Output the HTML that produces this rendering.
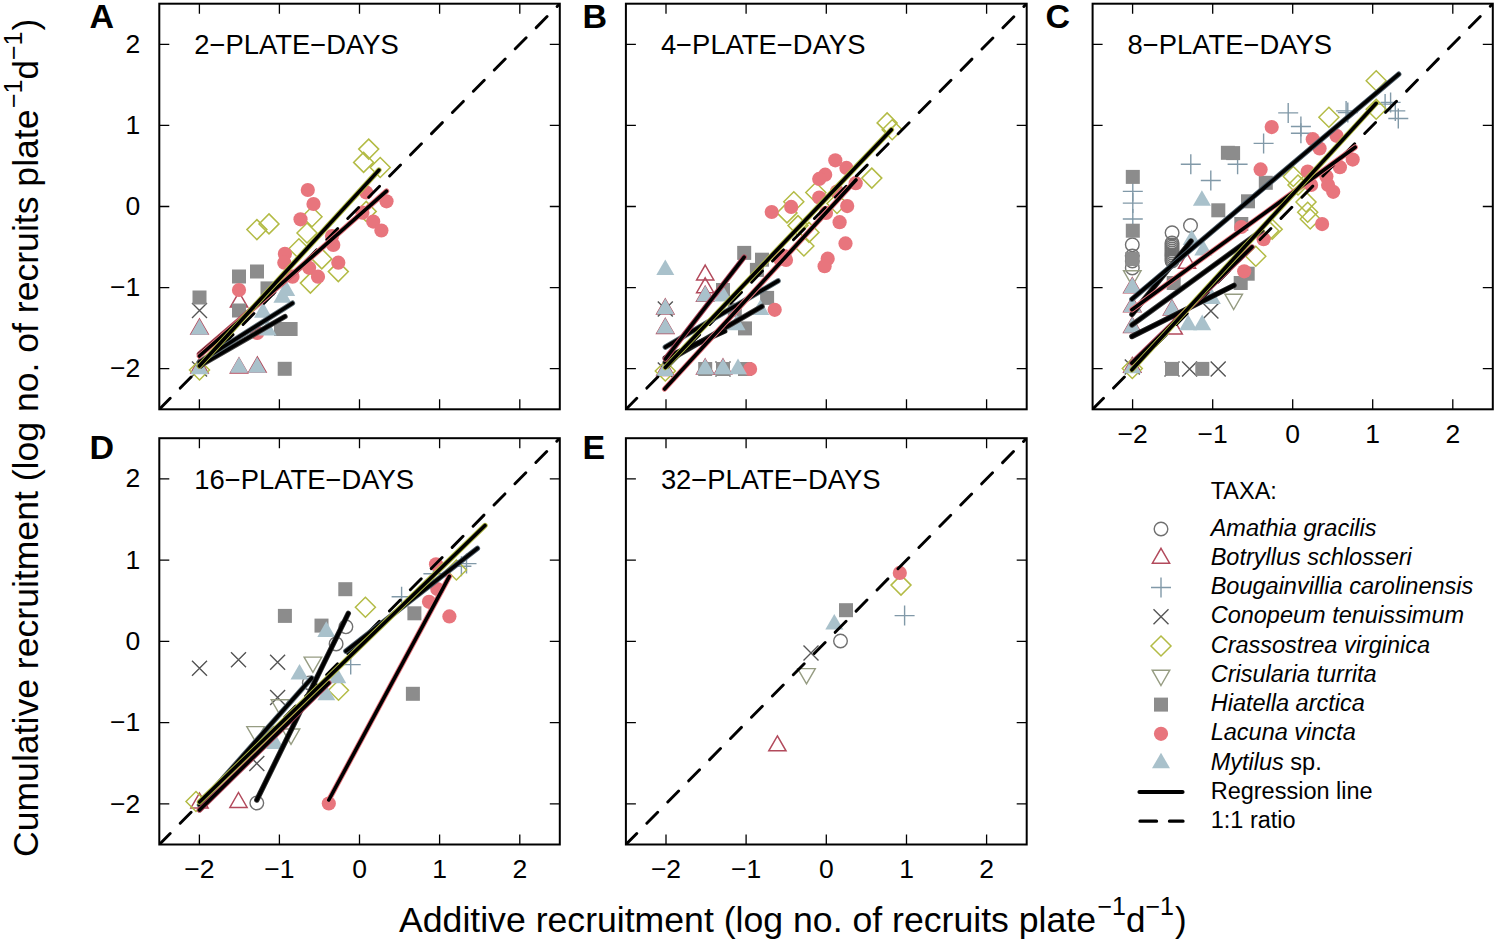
<!DOCTYPE html><html><head><meta charset="utf-8"><style>html,body{margin:0;padding:0;background:#fff;}svg{display:block;font-family:"Liberation Sans", sans-serif;}</style></head><body>
<svg width="1497" height="943" viewBox="0 0 1497 943">
<rect width="100%" height="100%" fill="#fff"/>
<clipPath id="clipA"><rect x="159.3" y="3.7" width="400.49999999999994" height="405.6"/></clipPath>
<g clip-path="url(#clipA)">
<path d="M199.5 319.1L208.1 334.0L190.9 334.0Z" fill="none" stroke="#b24a5c" stroke-width="1.5"/>
<path d="M239.0 292.1L247.6 307.0L230.4 307.0Z" fill="none" stroke="#b24a5c" stroke-width="1.5"/>
<path d="M199.5 358.1L208.1 373.0L190.9 373.0Z" fill="none" stroke="#b24a5c" stroke-width="1.5"/>
<path d="M239.0 358.1L247.6 373.0L230.4 373.0Z" fill="none" stroke="#b24a5c" stroke-width="1.5"/>
<path d="M257.4 357.1L266.0 372.0L248.8 372.0Z" fill="none" stroke="#b24a5c" stroke-width="1.5"/>
<path d="M192.0 303.0L207.0 318.0M192.0 318.0L207.0 303.0" stroke="#555555" stroke-width="1.4"/>
<path d="M192.0 361.5L207.0 376.5M192.0 376.5L207.0 361.5" stroke="#555555" stroke-width="1.4"/>
<path d="M368.7 139.1L378.7 149.1L368.7 159.1L358.7 149.1Z" fill="none" stroke="#b3bb45" stroke-width="1.5"/>
<path d="M363.6 152.4L373.6 162.4L363.6 172.4L353.6 162.4Z" fill="none" stroke="#b3bb45" stroke-width="1.5"/>
<path d="M380.2 157.5L390.2 167.5L380.2 177.5L370.2 167.5Z" fill="none" stroke="#b3bb45" stroke-width="1.5"/>
<path d="M312.0 206.7L322.0 216.7L312.0 226.7L302.0 216.7Z" fill="none" stroke="#b3bb45" stroke-width="1.5"/>
<path d="M307.0 223.0L317.0 233.0L307.0 243.0L297.0 233.0Z" fill="none" stroke="#b3bb45" stroke-width="1.5"/>
<path d="M366.2 201.4L376.2 211.4L366.2 221.4L356.2 211.4Z" fill="none" stroke="#b3bb45" stroke-width="1.5"/>
<path d="M298.9 238.7L308.9 248.7L298.9 258.7L288.9 248.7Z" fill="none" stroke="#b3bb45" stroke-width="1.5"/>
<path d="M256.9 219.6L266.9 229.6L256.9 239.6L246.9 229.6Z" fill="none" stroke="#b3bb45" stroke-width="1.5"/>
<path d="M269.0 213.9L279.0 223.9L269.0 233.9L259.0 223.9Z" fill="none" stroke="#b3bb45" stroke-width="1.5"/>
<path d="M321.8 248.9L331.8 258.9L321.8 268.9L311.8 258.9Z" fill="none" stroke="#b3bb45" stroke-width="1.5"/>
<path d="M310.4 273.1L320.4 283.1L310.4 293.1L300.4 283.1Z" fill="none" stroke="#b3bb45" stroke-width="1.5"/>
<path d="M338.3 261.6L348.3 271.6L338.3 281.6L328.3 271.6Z" fill="none" stroke="#b3bb45" stroke-width="1.5"/>
<path d="M199.5 360.0L209.5 370.0L199.5 380.0L189.5 370.0Z" fill="none" stroke="#b3bb45" stroke-width="1.5"/>
<rect x="192.5" y="290.5" width="14.0" height="14.0" fill="#8c8c8c"/>
<rect x="232.0" y="269.5" width="14.0" height="14.0" fill="#8c8c8c"/>
<rect x="250.0" y="264.5" width="14.0" height="14.0" fill="#8c8c8c"/>
<rect x="260.5" y="281.4" width="14.0" height="14.0" fill="#8c8c8c"/>
<rect x="232.0" y="303.5" width="14.0" height="14.0" fill="#8c8c8c"/>
<rect x="274.0" y="322.0" width="14.0" height="14.0" fill="#8c8c8c"/>
<rect x="283.6" y="322.0" width="14.0" height="14.0" fill="#8c8c8c"/>
<rect x="277.7" y="361.8" width="14.0" height="14.0" fill="#8c8c8c"/>
<circle cx="307.8" cy="190.0" r="7.10" fill="#e8757d"/>
<circle cx="313.5" cy="204.0" r="7.10" fill="#e8757d"/>
<circle cx="300.5" cy="219.3" r="7.10" fill="#e8757d"/>
<circle cx="366.2" cy="192.4" r="7.10" fill="#e8757d"/>
<circle cx="386.5" cy="201.3" r="7.10" fill="#e8757d"/>
<circle cx="362.4" cy="212.7" r="7.10" fill="#e8757d"/>
<circle cx="373.2" cy="221.6" r="7.10" fill="#e8757d"/>
<circle cx="381.4" cy="230.5" r="7.10" fill="#e8757d"/>
<circle cx="332.0" cy="236.0" r="7.10" fill="#e8757d"/>
<circle cx="333.3" cy="244.9" r="7.10" fill="#e8757d"/>
<circle cx="284.9" cy="253.8" r="7.10" fill="#e8757d"/>
<circle cx="284.3" cy="262.7" r="7.10" fill="#e8757d"/>
<circle cx="309.1" cy="267.8" r="7.10" fill="#e8757d"/>
<circle cx="318.0" cy="276.7" r="7.10" fill="#e8757d"/>
<circle cx="292.5" cy="276.7" r="7.10" fill="#e8757d"/>
<circle cx="338.3" cy="262.7" r="7.10" fill="#e8757d"/>
<circle cx="239.0" cy="290.0" r="7.10" fill="#e8757d"/>
<circle cx="257.2" cy="333.0" r="7.10" fill="#e8757d"/>
<path d="M199.5 319.1L208.5 334.7L190.5 334.7Z" fill="#a9c1cb"/>
<path d="M239.0 357.1L248.0 372.7L230.0 372.7Z" fill="#a9c1cb"/>
<path d="M257.2 357.1L266.2 372.7L248.2 372.7Z" fill="#a9c1cb"/>
<path d="M199.5 358.6L208.5 374.2L190.5 374.2Z" fill="#a9c1cb"/>
<path d="M263.0 302.1L272.0 317.7L254.0 317.7Z" fill="#a9c1cb"/>
<path d="M282.4 287.1L291.4 302.7L273.4 302.7Z" fill="#a9c1cb"/>
<path d="M267.6 319.8L276.6 335.4L258.6 335.4Z" fill="#a9c1cb"/>
<path d="M286.2 280.3L295.2 295.9L277.2 295.9Z" fill="#a9c1cb"/>
<line x1="159.3" y1="409.3" x2="559.8" y2="3.7" stroke="#000" stroke-width="2.9" stroke-dasharray="15.5 14.3" stroke-linecap="round"/>
<line x1="199.4" y1="366" x2="285" y2="316.5" stroke="#404040" stroke-width="5.4" stroke-linecap="round"/>
<line x1="199.4" y1="366" x2="285" y2="316.5" stroke="#000" stroke-width="3.6" stroke-linecap="round"/>
<line x1="199.4" y1="362" x2="292.4" y2="303.2" stroke="#5a6a72" stroke-width="5.4" stroke-linecap="round"/>
<line x1="199.4" y1="362" x2="292.4" y2="303.2" stroke="#000" stroke-width="3.6" stroke-linecap="round"/>
<line x1="199.4" y1="354" x2="300" y2="268" stroke="#b24a5c" stroke-width="5.4" stroke-linecap="round"/>
<line x1="199.4" y1="354" x2="300" y2="268" stroke="#000" stroke-width="3.6" stroke-linecap="round"/>
<line x1="199.4" y1="356" x2="386.5" y2="191.1" stroke="#e8757d" stroke-width="5.4" stroke-linecap="round"/>
<line x1="199.4" y1="356" x2="386.5" y2="191.1" stroke="#000" stroke-width="3.6" stroke-linecap="round"/>
<line x1="199.4" y1="366" x2="378.9" y2="170.1" stroke="#b3bb45" stroke-width="5.4" stroke-linecap="round"/>
<line x1="199.4" y1="366" x2="378.9" y2="170.1" stroke="#000" stroke-width="3.6" stroke-linecap="round"/>
</g>
<rect x="159.3" y="3.7" width="400.5" height="405.6" fill="none" stroke="#000" stroke-width="2"/>
<path d="M199.4 409.3V399.3M199.4 3.7V13.7M159.3 368.7H169.3M559.8 368.7H549.8" stroke="#000" stroke-width="1.3"/>
<text x="140.3" y="377.3" text-anchor="end" font-size="26.5">−2</text>
<path d="M279.4 409.3V399.3M279.4 3.7V13.7M159.3 287.6H169.3M559.8 287.6H549.8" stroke="#000" stroke-width="1.3"/>
<text x="140.3" y="296.2" text-anchor="end" font-size="26.5">−1</text>
<path d="M359.5 409.3V399.3M359.5 3.7V13.7M159.3 206.5H169.3M559.8 206.5H549.8" stroke="#000" stroke-width="1.3"/>
<text x="140.3" y="215.1" text-anchor="end" font-size="26.5">0</text>
<path d="M439.6 409.3V399.3M439.6 3.7V13.7M159.3 125.4H169.3M559.8 125.4H549.8" stroke="#000" stroke-width="1.3"/>
<text x="140.3" y="134.0" text-anchor="end" font-size="26.5">1</text>
<path d="M519.8 409.3V399.3M519.8 3.7V13.7M159.3 44.3H169.3M559.8 44.3H549.8" stroke="#000" stroke-width="1.3"/>
<text x="140.3" y="52.9" text-anchor="end" font-size="26.5">2</text>
<text x="194.3" y="54.2" font-size="27.4">2−PLATE−DAYS</text>
<clipPath id="clipB"><rect x="625.9" y="3.7" width="400.80000000000007" height="405.6"/></clipPath>
<g clip-path="url(#clipB)">
<path d="M665.3 299.1L673.9 314.0L656.7 314.0Z" fill="none" stroke="#b24a5c" stroke-width="1.5"/>
<path d="M665.3 318.5L673.9 333.4L656.7 333.4Z" fill="none" stroke="#b24a5c" stroke-width="1.5"/>
<path d="M665.3 360.6L673.9 375.5L656.7 375.5Z" fill="none" stroke="#b24a5c" stroke-width="1.5"/>
<path d="M705.2 265.1L713.8 280.0L696.6 280.0Z" fill="none" stroke="#b24a5c" stroke-width="1.5"/>
<path d="M705.2 277.8L713.8 292.7L696.6 292.7Z" fill="none" stroke="#b24a5c" stroke-width="1.5"/>
<path d="M705.2 286.3L713.8 301.2L696.6 301.2Z" fill="none" stroke="#b24a5c" stroke-width="1.5"/>
<path d="M705.2 359.1L713.8 374.0L696.6 374.0Z" fill="none" stroke="#b24a5c" stroke-width="1.5"/>
<path d="M723.0 359.1L731.6 374.0L714.4 374.0Z" fill="none" stroke="#b24a5c" stroke-width="1.5"/>
<path d="M657.8 301.5L672.8 316.5M657.8 316.5L672.8 301.5" stroke="#555555" stroke-width="1.4"/>
<path d="M657.8 362.5L672.8 377.5M657.8 377.5L672.8 362.5" stroke="#555555" stroke-width="1.4"/>
<path d="M715.5 361.5L730.5 376.5M715.5 376.5L730.5 361.5" stroke="#555555" stroke-width="1.4"/>
<path d="M887.1 112.9L897.1 122.9L887.1 132.9L877.1 122.9Z" fill="none" stroke="#b3bb45" stroke-width="1.5"/>
<path d="M892.2 119.7L902.2 129.7L892.2 139.7L882.2 129.7Z" fill="none" stroke="#b3bb45" stroke-width="1.5"/>
<path d="M871.8 168.1L881.8 178.1L871.8 188.1L861.8 178.1Z" fill="none" stroke="#b3bb45" stroke-width="1.5"/>
<path d="M815.8 182.5L825.8 192.5L815.8 202.5L805.8 192.5Z" fill="none" stroke="#b3bb45" stroke-width="1.5"/>
<path d="M793.8 191.8L803.8 201.8L793.8 211.8L783.8 201.8Z" fill="none" stroke="#b3bb45" stroke-width="1.5"/>
<path d="M787.0 202.9L797.0 212.9L787.0 222.9L777.0 212.9Z" fill="none" stroke="#b3bb45" stroke-width="1.5"/>
<path d="M798.0 215.6L808.0 225.6L798.0 235.6L788.0 225.6Z" fill="none" stroke="#b3bb45" stroke-width="1.5"/>
<path d="M809.0 222.4L819.0 232.4L809.0 242.4L799.0 232.4Z" fill="none" stroke="#b3bb45" stroke-width="1.5"/>
<path d="M803.9 236.0L813.9 246.0L803.9 256.0L793.9 246.0Z" fill="none" stroke="#b3bb45" stroke-width="1.5"/>
<path d="M837.0 193.5L847.0 203.5L837.0 213.5L827.0 203.5Z" fill="none" stroke="#b3bb45" stroke-width="1.5"/>
<path d="M665.3 361.0L675.3 371.0L665.3 381.0L655.3 371.0Z" fill="none" stroke="#b3bb45" stroke-width="1.5"/>
<rect x="737.2" y="245.9" width="14.0" height="14.0" fill="#8c8c8c"/>
<rect x="755.0" y="252.7" width="14.0" height="14.0" fill="#8c8c8c"/>
<rect x="749.9" y="262.9" width="14.0" height="14.0" fill="#8c8c8c"/>
<rect x="760.1" y="290.9" width="14.0" height="14.0" fill="#8c8c8c"/>
<rect x="738.0" y="321.4" width="14.0" height="14.0" fill="#8c8c8c"/>
<rect x="727.8" y="302.8" width="14.0" height="14.0" fill="#8c8c8c"/>
<rect x="716.0" y="283.0" width="14.0" height="14.0" fill="#8c8c8c"/>
<rect x="698.2" y="362.0" width="14.0" height="14.0" fill="#8c8c8c"/>
<rect x="716.0" y="362.0" width="14.0" height="14.0" fill="#8c8c8c"/>
<rect x="738.0" y="362.0" width="14.0" height="14.0" fill="#8c8c8c"/>
<circle cx="835.3" cy="160.3" r="7.10" fill="#e8757d"/>
<circle cx="846.4" cy="167.9" r="7.10" fill="#e8757d"/>
<circle cx="825.2" cy="174.7" r="7.10" fill="#e8757d"/>
<circle cx="819.2" cy="178.9" r="7.10" fill="#e8757d"/>
<circle cx="855.7" cy="183.2" r="7.10" fill="#e8757d"/>
<circle cx="819.2" cy="197.6" r="7.10" fill="#e8757d"/>
<circle cx="837.0" cy="191.6" r="7.10" fill="#e8757d"/>
<circle cx="791.2" cy="206.9" r="7.10" fill="#e8757d"/>
<circle cx="771.7" cy="212.0" r="7.10" fill="#e8757d"/>
<circle cx="847.2" cy="206.1" r="7.10" fill="#e8757d"/>
<circle cx="826.0" cy="212.9" r="7.10" fill="#e8757d"/>
<circle cx="839.6" cy="222.2" r="7.10" fill="#e8757d"/>
<circle cx="845.5" cy="243.4" r="7.10" fill="#e8757d"/>
<circle cx="827.7" cy="258.7" r="7.10" fill="#e8757d"/>
<circle cx="824.6" cy="266.2" r="7.10" fill="#e8757d"/>
<circle cx="784.4" cy="256.1" r="7.10" fill="#e8757d"/>
<circle cx="774.7" cy="309.8" r="7.10" fill="#e8757d"/>
<circle cx="779.8" cy="258.8" r="7.10" fill="#e8757d"/>
<circle cx="750.1" cy="369.0" r="7.10" fill="#e8757d"/>
<circle cx="786.0" cy="260.0" r="7.10" fill="#e8757d"/>
<path d="M665.3 259.5L674.3 275.1L656.3 275.1Z" fill="#a9c1cb"/>
<path d="M665.3 298.6L674.3 314.2L656.3 314.2Z" fill="#a9c1cb"/>
<path d="M665.3 318.0L674.3 333.6L656.3 333.6Z" fill="#a9c1cb"/>
<path d="M665.3 360.4L674.3 376.0L656.3 376.0Z" fill="#a9c1cb"/>
<path d="M705.2 285.8L714.2 301.4L696.2 301.4Z" fill="#a9c1cb"/>
<path d="M705.2 358.6L714.2 374.2L696.2 374.2Z" fill="#a9c1cb"/>
<path d="M723.0 358.6L732.0 374.2L714.0 374.2Z" fill="#a9c1cb"/>
<path d="M723.0 285.8L732.0 301.4L714.0 301.4Z" fill="#a9c1cb"/>
<path d="M760.3 299.4L769.3 315.0L751.3 315.0Z" fill="#a9c1cb"/>
<path d="M736.5 314.6L745.5 330.2L727.5 330.2Z" fill="#a9c1cb"/>
<path d="M738.0 358.6L747.0 374.2L729.0 374.2Z" fill="#a9c1cb"/>
<line x1="625.9" y1="409.3" x2="1026.7" y2="3.7" stroke="#000" stroke-width="2.9" stroke-dasharray="15.5 14.3" stroke-linecap="round"/>
<line x1="665.3" y1="362.4" x2="762" y2="306.4" stroke="#404040" stroke-width="5.4" stroke-linecap="round"/>
<line x1="665.3" y1="362.4" x2="762" y2="306.4" stroke="#000" stroke-width="3.6" stroke-linecap="round"/>
<line x1="665.3" y1="347.1" x2="778.1" y2="280.9" stroke="#5a6a72" stroke-width="5.4" stroke-linecap="round"/>
<line x1="665.3" y1="347.1" x2="778.1" y2="280.9" stroke="#000" stroke-width="3.6" stroke-linecap="round"/>
<line x1="665.3" y1="358" x2="724.7" y2="331" stroke="#202020" stroke-width="5.4" stroke-linecap="round"/>
<line x1="665.3" y1="358" x2="724.7" y2="331" stroke="#000" stroke-width="3.6" stroke-linecap="round"/>
<line x1="665.3" y1="359" x2="744.2" y2="257.2" stroke="#b24a5c" stroke-width="5.4" stroke-linecap="round"/>
<line x1="665.3" y1="359" x2="744.2" y2="257.2" stroke="#000" stroke-width="3.6" stroke-linecap="round"/>
<line x1="664.6" y1="389" x2="856" y2="180" stroke="#e8757d" stroke-width="5.4" stroke-linecap="round"/>
<line x1="664.6" y1="389" x2="856" y2="180" stroke="#000" stroke-width="3.6" stroke-linecap="round"/>
<line x1="665.3" y1="367.5" x2="891.4" y2="129.7" stroke="#b3bb45" stroke-width="5.4" stroke-linecap="round"/>
<line x1="665.3" y1="367.5" x2="891.4" y2="129.7" stroke="#000" stroke-width="3.6" stroke-linecap="round"/>
</g>
<rect x="625.9" y="3.7" width="400.8" height="405.6" fill="none" stroke="#000" stroke-width="2"/>
<path d="M666.0 409.3V399.3M666.0 3.7V13.7M625.9 368.7H635.9M1026.7 368.7H1016.7" stroke="#000" stroke-width="1.3"/>
<path d="M746.1 409.3V399.3M746.1 3.7V13.7M625.9 287.6H635.9M1026.7 287.6H1016.7" stroke="#000" stroke-width="1.3"/>
<path d="M826.3 409.3V399.3M826.3 3.7V13.7M625.9 206.5H635.9M1026.7 206.5H1016.7" stroke="#000" stroke-width="1.3"/>
<path d="M906.5 409.3V399.3M906.5 3.7V13.7M625.9 125.4H635.9M1026.7 125.4H1016.7" stroke="#000" stroke-width="1.3"/>
<path d="M986.6 409.3V399.3M986.6 3.7V13.7M625.9 44.3H635.9M1026.7 44.3H1016.7" stroke="#000" stroke-width="1.3"/>
<text x="660.9" y="54.2" font-size="27.4">4−PLATE−DAYS</text>
<clipPath id="clipC"><rect x="1092.6" y="3.7" width="400.20000000000005" height="405.6"/></clipPath>
<g clip-path="url(#clipC)">
<circle cx="1132.3" cy="244.8" r="6.80" fill="none" stroke="#707070" stroke-width="1.4"/>
<circle cx="1132.3" cy="256.0" r="6.80" fill="none" stroke="#707070" stroke-width="1.4"/>
<circle cx="1132.3" cy="261.0" r="6.80" fill="none" stroke="#707070" stroke-width="1.4"/>
<circle cx="1132.3" cy="267.9" r="6.80" fill="none" stroke="#707070" stroke-width="1.4"/>
<circle cx="1172.1" cy="232.8" r="6.80" fill="none" stroke="#707070" stroke-width="1.4"/>
<circle cx="1190.5" cy="225.5" r="6.80" fill="none" stroke="#707070" stroke-width="1.4"/>
<circle cx="1172.0" cy="243.0" r="6.80" fill="none" stroke="#707070" stroke-width="1.4"/>
<circle cx="1172.0" cy="245.0" r="6.80" fill="none" stroke="#707070" stroke-width="1.4"/>
<circle cx="1172.0" cy="247.0" r="6.80" fill="none" stroke="#707070" stroke-width="1.4"/>
<circle cx="1172.0" cy="249.0" r="6.80" fill="none" stroke="#707070" stroke-width="1.4"/>
<circle cx="1172.0" cy="251.0" r="6.80" fill="none" stroke="#707070" stroke-width="1.4"/>
<circle cx="1172.0" cy="253.0" r="6.80" fill="none" stroke="#707070" stroke-width="1.4"/>
<circle cx="1172.0" cy="255.0" r="6.80" fill="none" stroke="#707070" stroke-width="1.4"/>
<circle cx="1172.0" cy="257.0" r="6.80" fill="none" stroke="#707070" stroke-width="1.4"/>
<circle cx="1172.0" cy="259.0" r="6.80" fill="none" stroke="#707070" stroke-width="1.4"/>
<circle cx="1172.0" cy="261.0" r="6.80" fill="none" stroke="#707070" stroke-width="1.4"/>
<path d="M1132.3 277.8L1140.9 292.7L1123.7 292.7Z" fill="none" stroke="#b24a5c" stroke-width="1.5"/>
<path d="M1132.3 296.9L1140.9 311.8L1123.7 311.8Z" fill="none" stroke="#b24a5c" stroke-width="1.5"/>
<path d="M1132.3 317.6L1140.9 332.5L1123.7 332.5Z" fill="none" stroke="#b24a5c" stroke-width="1.5"/>
<path d="M1132.3 357.4L1140.9 372.3L1123.7 372.3Z" fill="none" stroke="#b24a5c" stroke-width="1.5"/>
<path d="M1172.0 300.1L1180.6 315.0L1163.4 315.0Z" fill="none" stroke="#b24a5c" stroke-width="1.5"/>
<path d="M1173.7 319.2L1182.3 334.1L1165.1 334.1Z" fill="none" stroke="#b24a5c" stroke-width="1.5"/>
<path d="M1187.0 253.3L1195.6 268.2L1178.4 268.2Z" fill="none" stroke="#b24a5c" stroke-width="1.5"/>
<path d="M1122.8 191.4H1142.8M1132.8 181.4V201.4" stroke="#8199a8" stroke-width="1.4"/>
<path d="M1122.8 203.1H1142.8M1132.8 193.1V213.1" stroke="#8199a8" stroke-width="1.4"/>
<path d="M1122.8 219.0H1142.8M1132.8 209.0V229.0" stroke="#8199a8" stroke-width="1.4"/>
<path d="M1180.8 164.2H1200.8M1190.8 154.2V174.2" stroke="#8199a8" stroke-width="1.4"/>
<path d="M1200.8 180.5H1220.8M1210.8 170.5V190.5" stroke="#8199a8" stroke-width="1.4"/>
<path d="M1227.6 164.2H1247.6M1237.6 154.2V174.2" stroke="#8199a8" stroke-width="1.4"/>
<path d="M1253.6 143.4H1273.6M1263.6 133.4V153.4" stroke="#8199a8" stroke-width="1.4"/>
<path d="M1278.2 112.9H1298.2M1288.2 102.9V122.9" stroke="#8199a8" stroke-width="1.4"/>
<path d="M1290.9 126.5H1310.9M1300.9 116.5V136.5" stroke="#8199a8" stroke-width="1.4"/>
<path d="M1290.9 133.3H1310.9M1300.9 123.3V143.3" stroke="#8199a8" stroke-width="1.4"/>
<path d="M1336.1 110.9H1356.1M1346.1 100.9V120.9" stroke="#8199a8" stroke-width="1.4"/>
<path d="M1337.8 112.6H1357.8M1347.8 102.6V122.6" stroke="#8199a8" stroke-width="1.4"/>
<path d="M1375.1 104.1H1395.1M1385.1 94.1V114.1" stroke="#8199a8" stroke-width="1.4"/>
<path d="M1380.6 102.4H1400.6M1390.6 92.4V112.4" stroke="#8199a8" stroke-width="1.4"/>
<path d="M1385.3 110.9H1405.3M1395.3 100.9V120.9" stroke="#8199a8" stroke-width="1.4"/>
<path d="M1388.3 118.5H1408.3M1398.3 108.5V128.5" stroke="#8199a8" stroke-width="1.4"/>
<path d="M1124.8 359.5L1139.8 374.5M1124.8 374.5L1139.8 359.5" stroke="#555555" stroke-width="1.4"/>
<path d="M1164.5 361.4L1179.5 376.4M1164.5 376.4L1179.5 361.4" stroke="#555555" stroke-width="1.4"/>
<path d="M1182.1 361.4L1197.1 376.4M1182.1 376.4L1197.1 361.4" stroke="#555555" stroke-width="1.4"/>
<path d="M1210.7 361.4L1225.7 376.4M1210.7 376.4L1225.7 361.4" stroke="#555555" stroke-width="1.4"/>
<path d="M1203.4 303.5L1218.4 318.5M1203.4 318.5L1218.4 303.5" stroke="#555555" stroke-width="1.4"/>
<path d="M1376.2 70.8L1386.2 80.8L1376.2 90.8L1366.2 80.8Z" fill="none" stroke="#b3bb45" stroke-width="1.5"/>
<path d="M1376.2 99.2L1386.2 109.2L1376.2 119.2L1366.2 109.2Z" fill="none" stroke="#b3bb45" stroke-width="1.5"/>
<path d="M1328.9 107.2L1338.9 117.2L1328.9 127.2L1318.9 117.2Z" fill="none" stroke="#b3bb45" stroke-width="1.5"/>
<path d="M1293.3 166.5L1303.3 176.5L1293.3 186.5L1283.3 176.5Z" fill="none" stroke="#b3bb45" stroke-width="1.5"/>
<path d="M1306.0 192.0L1316.0 202.0L1306.0 212.0L1296.0 202.0Z" fill="none" stroke="#b3bb45" stroke-width="1.5"/>
<path d="M1307.7 202.2L1317.7 212.2L1307.7 222.2L1297.7 212.2Z" fill="none" stroke="#b3bb45" stroke-width="1.5"/>
<path d="M1310.2 209.0L1320.2 219.0L1310.2 229.0L1300.2 219.0Z" fill="none" stroke="#b3bb45" stroke-width="1.5"/>
<path d="M1268.7 220.8L1278.7 230.8L1268.7 240.8L1258.7 230.8Z" fill="none" stroke="#b3bb45" stroke-width="1.5"/>
<path d="M1272.2 219.3L1282.2 229.3L1272.2 239.3L1262.2 229.3Z" fill="none" stroke="#b3bb45" stroke-width="1.5"/>
<path d="M1255.8 246.2L1265.8 256.2L1255.8 266.2L1245.8 256.2Z" fill="none" stroke="#b3bb45" stroke-width="1.5"/>
<path d="M1132.3 358.5L1142.3 368.5L1132.3 378.5L1122.3 368.5Z" fill="none" stroke="#b3bb45" stroke-width="1.5"/>
<path d="M1298.0 175.0L1308.0 185.0L1298.0 195.0L1288.0 185.0Z" fill="none" stroke="#b3bb45" stroke-width="1.5"/>
<path d="M1132.3 286.0L1141.1 270.7L1123.5 270.7Z" fill="none" stroke="#969c82" stroke-width="1.4"/>
<path d="M1233.7 309.5L1242.5 294.2L1224.9 294.2Z" fill="none" stroke="#969c82" stroke-width="1.4"/>
<rect x="1125.8" y="169.9" width="14.0" height="14.0" fill="#8c8c8c"/>
<rect x="1125.8" y="223.7" width="14.0" height="14.0" fill="#8c8c8c"/>
<rect x="1125.3" y="252.0" width="14.0" height="14.0" fill="#8c8c8c"/>
<rect x="1166.7" y="276.0" width="14.0" height="14.0" fill="#8c8c8c"/>
<rect x="1165.0" y="361.9" width="14.0" height="14.0" fill="#8c8c8c"/>
<rect x="1195.3" y="361.9" width="14.0" height="14.0" fill="#8c8c8c"/>
<rect x="1211.3" y="203.3" width="14.0" height="14.0" fill="#8c8c8c"/>
<rect x="1226.1" y="146.1" width="14.0" height="14.0" fill="#8c8c8c"/>
<rect x="1258.8" y="175.8" width="14.0" height="14.0" fill="#8c8c8c"/>
<rect x="1241.0" y="194.3" width="14.0" height="14.0" fill="#8c8c8c"/>
<rect x="1234.3" y="217.0" width="14.0" height="14.0" fill="#8c8c8c"/>
<rect x="1240.7" y="266.7" width="14.0" height="14.0" fill="#8c8c8c"/>
<rect x="1233.7" y="276.0" width="14.0" height="14.0" fill="#8c8c8c"/>
<rect x="1220.9" y="145.8" width="14.0" height="14.0" fill="#8c8c8c"/>
<circle cx="1271.7" cy="127.1" r="7.10" fill="#e8757d"/>
<circle cx="1260.6" cy="169.4" r="7.10" fill="#e8757d"/>
<circle cx="1241.3" cy="227.0" r="7.10" fill="#e8757d"/>
<circle cx="1263.6" cy="239.2" r="7.10" fill="#e8757d"/>
<circle cx="1312.8" cy="139.2" r="7.10" fill="#e8757d"/>
<circle cx="1319.6" cy="148.5" r="7.10" fill="#e8757d"/>
<circle cx="1336.5" cy="135.8" r="7.10" fill="#e8757d"/>
<circle cx="1352.7" cy="159.6" r="7.10" fill="#e8757d"/>
<circle cx="1339.9" cy="167.2" r="7.10" fill="#e8757d"/>
<circle cx="1307.7" cy="171.5" r="7.10" fill="#e8757d"/>
<circle cx="1326.4" cy="176.5" r="7.10" fill="#e8757d"/>
<circle cx="1328.1" cy="185.0" r="7.10" fill="#e8757d"/>
<circle cx="1333.2" cy="191.8" r="7.10" fill="#e8757d"/>
<circle cx="1311.1" cy="185.0" r="7.10" fill="#e8757d"/>
<circle cx="1322.1" cy="224.1" r="7.10" fill="#e8757d"/>
<circle cx="1244.2" cy="271.3" r="7.10" fill="#e8757d"/>
<path d="M1132.3 277.3L1141.3 292.9L1123.3 292.9Z" fill="#a9c1cb"/>
<path d="M1132.3 296.4L1141.3 312.0L1123.3 312.0Z" fill="#a9c1cb"/>
<path d="M1132.3 317.1L1141.3 332.7L1123.3 332.7Z" fill="#a9c1cb"/>
<path d="M1132.3 357.6L1141.3 373.2L1123.3 373.2Z" fill="#a9c1cb"/>
<path d="M1201.9 190.2L1210.9 205.8L1192.9 205.8Z" fill="#a9c1cb"/>
<path d="M1191.7 229.4L1200.7 245.0L1182.7 245.0Z" fill="#a9c1cb"/>
<path d="M1203.3 239.9L1212.3 255.5L1194.3 255.5Z" fill="#a9c1cb"/>
<path d="M1206.8 287.8L1215.8 303.4L1197.8 303.4Z" fill="#a9c1cb"/>
<path d="M1188.2 314.6L1197.2 330.2L1179.2 330.2Z" fill="#a9c1cb"/>
<path d="M1202.2 314.6L1211.2 330.2L1193.2 330.2Z" fill="#a9c1cb"/>
<path d="M1172.0 299.6L1181.0 315.2L1163.0 315.2Z" fill="#a9c1cb"/>
<path d="M1211.9 288.5L1220.9 304.1L1202.9 304.1Z" fill="#a9c1cb"/>
<line x1="1092.6" y1="409.3" x2="1492.8" y2="3.7" stroke="#000" stroke-width="2.9" stroke-dasharray="15.5 14.3" stroke-linecap="round"/>
<line x1="1131.9" y1="336.5" x2="1234" y2="285.3" stroke="#202020" stroke-width="5.4" stroke-linecap="round"/>
<line x1="1131.9" y1="336.5" x2="1234" y2="285.3" stroke="#000" stroke-width="3.6" stroke-linecap="round"/>
<line x1="1131.9" y1="325" x2="1261.7" y2="230.5" stroke="#404040" stroke-width="5.4" stroke-linecap="round"/>
<line x1="1131.9" y1="325" x2="1261.7" y2="230.5" stroke="#000" stroke-width="3.6" stroke-linecap="round"/>
<line x1="1131.9" y1="314.5" x2="1191.1" y2="241" stroke="#303030" stroke-width="5.4" stroke-linecap="round"/>
<line x1="1131.9" y1="314.5" x2="1191.1" y2="241" stroke="#000" stroke-width="3.6" stroke-linecap="round"/>
<line x1="1131.9" y1="299.2" x2="1398.7" y2="74.2" stroke="#4a5a66" stroke-width="5.4" stroke-linecap="round"/>
<line x1="1131.9" y1="299.2" x2="1398.7" y2="74.2" stroke="#000" stroke-width="3.6" stroke-linecap="round"/>
<line x1="1131.9" y1="363" x2="1252" y2="247" stroke="#b24a5c" stroke-width="5.4" stroke-linecap="round"/>
<line x1="1131.9" y1="363" x2="1252" y2="247" stroke="#000" stroke-width="3.6" stroke-linecap="round"/>
<line x1="1131.9" y1="309.7" x2="1355.2" y2="147.2" stroke="#e8757d" stroke-width="5.4" stroke-linecap="round"/>
<line x1="1131.9" y1="309.7" x2="1355.2" y2="147.2" stroke="#000" stroke-width="3.6" stroke-linecap="round"/>
<line x1="1131.9" y1="369.8" x2="1376.2" y2="103.3" stroke="#b3bb45" stroke-width="5.4" stroke-linecap="round"/>
<line x1="1131.9" y1="369.8" x2="1376.2" y2="103.3" stroke="#000" stroke-width="3.6" stroke-linecap="round"/>
</g>
<rect x="1092.6" y="3.7" width="400.2" height="405.6" fill="none" stroke="#000" stroke-width="2"/>
<path d="M1132.6 409.3V399.3M1132.6 3.7V13.7M1092.6 368.7H1102.6M1492.8 368.7H1482.8" stroke="#000" stroke-width="1.3"/>
<text x="1132.6" y="442.9" text-anchor="middle" font-size="26.5">−2</text>
<path d="M1212.7 409.3V399.3M1212.7 3.7V13.7M1092.6 287.6H1102.6M1492.8 287.6H1482.8" stroke="#000" stroke-width="1.3"/>
<text x="1212.7" y="442.9" text-anchor="middle" font-size="26.5">−1</text>
<path d="M1292.7 409.3V399.3M1292.7 3.7V13.7M1092.6 206.5H1102.6M1492.8 206.5H1482.8" stroke="#000" stroke-width="1.3"/>
<text x="1292.7" y="442.9" text-anchor="middle" font-size="26.5">0</text>
<path d="M1372.7 409.3V399.3M1372.7 3.7V13.7M1092.6 125.4H1102.6M1492.8 125.4H1482.8" stroke="#000" stroke-width="1.3"/>
<text x="1372.7" y="442.9" text-anchor="middle" font-size="26.5">1</text>
<path d="M1452.8 409.3V399.3M1452.8 3.7V13.7M1092.6 44.3H1102.6M1492.8 44.3H1482.8" stroke="#000" stroke-width="1.3"/>
<text x="1452.8" y="442.9" text-anchor="middle" font-size="26.5">2</text>
<text x="1127.6" y="54.2" font-size="27.4">8−PLATE−DAYS</text>
<clipPath id="clipD"><rect x="159.3" y="438.2" width="400.49999999999994" height="406.3"/></clipPath>
<g clip-path="url(#clipD)">
<circle cx="345.9" cy="626.8" r="6.80" fill="none" stroke="#707070" stroke-width="1.4"/>
<circle cx="336.1" cy="643.9" r="6.80" fill="none" stroke="#707070" stroke-width="1.4"/>
<circle cx="309.3" cy="682.9" r="6.80" fill="none" stroke="#707070" stroke-width="1.4"/>
<circle cx="256.8" cy="803.0" r="6.80" fill="none" stroke="#707070" stroke-width="1.4"/>
<path d="M238.5 792.5L247.1 807.4L229.9 807.4Z" fill="none" stroke="#b24a5c" stroke-width="1.5"/>
<path d="M199.5 793.1L208.1 808.0L190.9 808.0Z" fill="none" stroke="#b24a5c" stroke-width="1.5"/>
<path d="M340.7 664.6H360.7M350.7 654.6V674.6" stroke="#8199a8" stroke-width="1.4"/>
<path d="M391.6 596.7H411.6M401.6 586.7V606.7" stroke="#8199a8" stroke-width="1.4"/>
<path d="M456.5 563.6H476.5M466.5 553.6V573.6" stroke="#8199a8" stroke-width="1.4"/>
<path d="M451.4 566.2H471.4M461.4 556.2V576.2" stroke="#8199a8" stroke-width="1.4"/>
<path d="M423.4 573.8H443.4M433.4 563.8V583.8" stroke="#8199a8" stroke-width="1.4"/>
<path d="M192.0 660.8L207.0 675.8M192.0 675.8L207.0 660.8" stroke="#555555" stroke-width="1.4"/>
<path d="M231.0 652.3L246.0 667.3M231.0 667.3L246.0 652.3" stroke="#555555" stroke-width="1.4"/>
<path d="M270.1 654.7L285.1 669.7M270.1 669.7L285.1 654.7" stroke="#555555" stroke-width="1.4"/>
<path d="M270.1 690.1L285.1 705.1M270.1 705.1L285.1 690.1" stroke="#555555" stroke-width="1.4"/>
<path d="M249.3 755.9L264.3 770.9M249.3 770.9L264.3 755.9" stroke="#555555" stroke-width="1.4"/>
<path d="M365.4 597.3L375.4 607.3L365.4 617.3L355.4 607.3Z" fill="none" stroke="#b3bb45" stroke-width="1.5"/>
<path d="M338.5 680.2L348.5 690.2L338.5 700.2L328.5 690.2Z" fill="none" stroke="#b3bb45" stroke-width="1.5"/>
<path d="M196.0 791.5L206.0 801.5L196.0 811.5L186.0 801.5Z" fill="none" stroke="#b3bb45" stroke-width="1.5"/>
<path d="M456.4 560.0L466.4 570.0L456.4 580.0L446.4 570.0Z" fill="none" stroke="#b3bb45" stroke-width="1.5"/>
<path d="M312.9 672.4L321.7 657.1L304.1 657.1Z" fill="none" stroke="#969c82" stroke-width="1.4"/>
<path d="M255.6 741.9L264.4 726.6L246.8 726.6Z" fill="none" stroke="#969c82" stroke-width="1.4"/>
<path d="M291.0 744.3L299.8 729.0L282.2 729.0Z" fill="none" stroke="#969c82" stroke-width="1.4"/>
<path d="M280.0 715.1L288.8 699.8L271.2 699.8Z" fill="none" stroke="#969c82" stroke-width="1.4"/>
<rect x="277.9" y="608.9" width="14.0" height="14.0" fill="#8c8c8c"/>
<rect x="338.3" y="582.2" width="14.0" height="14.0" fill="#8c8c8c"/>
<rect x="314.5" y="618.6" width="14.0" height="14.0" fill="#8c8c8c"/>
<rect x="407.4" y="606.3" width="14.0" height="14.0" fill="#8c8c8c"/>
<rect x="405.9" y="686.8" width="14.0" height="14.0" fill="#8c8c8c"/>
<circle cx="328.8" cy="803.5" r="7.10" fill="#e8757d"/>
<circle cx="436.0" cy="564.3" r="7.10" fill="#e8757d"/>
<circle cx="437.3" cy="589.1" r="7.10" fill="#e8757d"/>
<circle cx="429.0" cy="601.8" r="7.10" fill="#e8757d"/>
<circle cx="449.4" cy="616.4" r="7.10" fill="#e8757d"/>
<path d="M299.5 664.0L308.5 679.6L290.5 679.6Z" fill="#a9c1cb"/>
<path d="M326.3 621.3L335.3 636.9L317.3 636.9Z" fill="#a9c1cb"/>
<path d="M337.3 667.6L346.3 683.2L328.3 683.2Z" fill="#a9c1cb"/>
<path d="M326.3 684.7L335.3 700.3L317.3 700.3Z" fill="#a9c1cb"/>
<path d="M275.1 733.5L284.1 749.1L266.1 749.1Z" fill="#a9c1cb"/>
<line x1="159.3" y1="844.5" x2="559.8" y2="438.2" stroke="#000" stroke-width="2.9" stroke-dasharray="15.5 14.3" stroke-linecap="round"/>
<line x1="199.5" y1="805" x2="311.7" y2="678" stroke="#5a6a72" stroke-width="5.4" stroke-linecap="round"/>
<line x1="199.5" y1="805" x2="311.7" y2="678" stroke="#000" stroke-width="3.6" stroke-linecap="round"/>
<line x1="345.9" y1="651.2" x2="477.4" y2="548.4" stroke="#4a5a66" stroke-width="5.4" stroke-linecap="round"/>
<line x1="345.9" y1="651.2" x2="477.4" y2="548.4" stroke="#000" stroke-width="3.6" stroke-linecap="round"/>
<line x1="256.8" y1="800" x2="348.3" y2="613.4" stroke="#303030" stroke-width="5.4" stroke-linecap="round"/>
<line x1="256.8" y1="800" x2="348.3" y2="613.4" stroke="#000" stroke-width="3.6" stroke-linecap="round"/>
<line x1="328.8" y1="800" x2="449.4" y2="576.4" stroke="#e8757d" stroke-width="5.4" stroke-linecap="round"/>
<line x1="328.8" y1="800" x2="449.4" y2="576.4" stroke="#000" stroke-width="3.6" stroke-linecap="round"/>
<line x1="199.5" y1="810" x2="328.8" y2="682.9" stroke="#b24a5c" stroke-width="5.4" stroke-linecap="round"/>
<line x1="199.5" y1="810" x2="328.8" y2="682.9" stroke="#000" stroke-width="3.6" stroke-linecap="round"/>
<line x1="199.5" y1="802" x2="485" y2="525.5" stroke="#b3bb45" stroke-width="5.4" stroke-linecap="round"/>
<line x1="199.5" y1="802" x2="485" y2="525.5" stroke="#000" stroke-width="3.6" stroke-linecap="round"/>
</g>
<rect x="159.3" y="438.2" width="400.5" height="406.3" fill="none" stroke="#000" stroke-width="2"/>
<path d="M199.4 844.5V834.5M199.4 438.2V448.2M159.3 803.9H169.3M559.8 803.9H549.8" stroke="#000" stroke-width="1.3"/>
<text x="140.3" y="812.5" text-anchor="end" font-size="26.5">−2</text>
<text x="199.4" y="878.1" text-anchor="middle" font-size="26.5">−2</text>
<path d="M279.4 844.5V834.5M279.4 438.2V448.2M159.3 722.6H169.3M559.8 722.6H549.8" stroke="#000" stroke-width="1.3"/>
<text x="140.3" y="731.2" text-anchor="end" font-size="26.5">−1</text>
<text x="279.4" y="878.1" text-anchor="middle" font-size="26.5">−1</text>
<path d="M359.5 844.5V834.5M359.5 438.2V448.2M159.3 641.4H169.3M559.8 641.4H549.8" stroke="#000" stroke-width="1.3"/>
<text x="140.3" y="650.0" text-anchor="end" font-size="26.5">0</text>
<text x="359.5" y="878.1" text-anchor="middle" font-size="26.5">0</text>
<path d="M439.6 844.5V834.5M439.6 438.2V448.2M159.3 560.1H169.3M559.8 560.1H549.8" stroke="#000" stroke-width="1.3"/>
<text x="140.3" y="568.7" text-anchor="end" font-size="26.5">1</text>
<text x="439.6" y="878.1" text-anchor="middle" font-size="26.5">1</text>
<path d="M519.8 844.5V834.5M519.8 438.2V448.2M159.3 478.8H169.3M559.8 478.8H549.8" stroke="#000" stroke-width="1.3"/>
<text x="140.3" y="487.4" text-anchor="end" font-size="26.5">2</text>
<text x="519.8" y="878.1" text-anchor="middle" font-size="26.5">2</text>
<text x="194.3" y="488.7" font-size="27.4">16−PLATE−DAYS</text>
<clipPath id="clipE"><rect x="625.9" y="438.2" width="400.80000000000007" height="406.3"/></clipPath>
<g clip-path="url(#clipE)">
<circle cx="840.5" cy="641.0" r="6.80" fill="none" stroke="#707070" stroke-width="1.4"/>
<path d="M777.4 735.9L786.0 750.8L768.8 750.8Z" fill="none" stroke="#b24a5c" stroke-width="1.5"/>
<path d="M894.6 615.6H914.6M904.6 605.6V625.6" stroke="#8199a8" stroke-width="1.4"/>
<path d="M803.5 645.5L818.5 660.5M803.5 660.5L818.5 645.5" stroke="#555555" stroke-width="1.4"/>
<path d="M901.0 575.1L911.0 585.1L901.0 595.1L891.0 585.1Z" fill="none" stroke="#b3bb45" stroke-width="1.5"/>
<path d="M806.5 683.9L815.3 668.6L797.7 668.6Z" fill="none" stroke="#969c82" stroke-width="1.4"/>
<rect x="839.0" y="603.2" width="14.0" height="14.0" fill="#8c8c8c"/>
<circle cx="899.8" cy="572.9" r="7.10" fill="#e8757d"/>
<path d="M834.3 613.9L843.3 629.5L825.3 629.5Z" fill="#a9c1cb"/>
<line x1="625.9" y1="844.5" x2="1026.7" y2="438.2" stroke="#000" stroke-width="2.9" stroke-dasharray="15.5 14.3" stroke-linecap="round"/>
</g>
<rect x="625.9" y="438.2" width="400.8" height="406.3" fill="none" stroke="#000" stroke-width="2"/>
<path d="M666.0 844.5V834.5M666.0 438.2V448.2M625.9 803.9H635.9M1026.7 803.9H1016.7" stroke="#000" stroke-width="1.3"/>
<text x="666.0" y="878.1" text-anchor="middle" font-size="26.5">−2</text>
<path d="M746.1 844.5V834.5M746.1 438.2V448.2M625.9 722.6H635.9M1026.7 722.6H1016.7" stroke="#000" stroke-width="1.3"/>
<text x="746.1" y="878.1" text-anchor="middle" font-size="26.5">−1</text>
<path d="M826.3 844.5V834.5M826.3 438.2V448.2M625.9 641.4H635.9M1026.7 641.4H1016.7" stroke="#000" stroke-width="1.3"/>
<text x="826.3" y="878.1" text-anchor="middle" font-size="26.5">0</text>
<path d="M906.5 844.5V834.5M906.5 438.2V448.2M625.9 560.1H635.9M1026.7 560.1H1016.7" stroke="#000" stroke-width="1.3"/>
<text x="906.5" y="878.1" text-anchor="middle" font-size="26.5">1</text>
<path d="M986.6 844.5V834.5M986.6 438.2V448.2M625.9 478.8H635.9M1026.7 478.8H1016.7" stroke="#000" stroke-width="1.3"/>
<text x="986.6" y="878.1" text-anchor="middle" font-size="26.5">2</text>
<text x="660.9" y="488.7" font-size="27.4">32−PLATE−DAYS</text>
<text x="89.5" y="28.3" font-size="34" font-weight="bold">A</text>
<text x="582.5" y="28.3" font-size="34" font-weight="bold">B</text>
<text x="1045.5" y="28.3" font-size="34" font-weight="bold">C</text>
<text x="89.5" y="458.5" font-size="34" font-weight="bold">D</text>
<text x="582.5" y="458.5" font-size="34" font-weight="bold">E</text>
<text x="1210.7" y="499" font-size="23.5">TAXA:</text>
<circle cx="1161.0" cy="529.0" r="6.80" fill="none" stroke="#707070" stroke-width="1.4"/>
<text x="1210.7" y="535.5" font-size="23.5"><tspan font-style="italic">Amathia gracilis</tspan></text>
<path d="M1161.0 548.3L1169.6 563.2L1152.4 563.2Z" fill="none" stroke="#b24a5c" stroke-width="1.5"/>
<text x="1210.7" y="564.8" font-size="23.5"><tspan font-style="italic">Botryllus schlosseri</tspan></text>
<path d="M1151.0 587.5H1171.0M1161.0 577.5V597.5" stroke="#8199a8" stroke-width="1.4"/>
<text x="1210.7" y="594.0" font-size="23.5"><tspan font-style="italic">Bougainvillia carolinensis</tspan></text>
<path d="M1153.5 609.3L1168.5 624.3M1153.5 624.3L1168.5 609.3" stroke="#555555" stroke-width="1.4"/>
<text x="1210.7" y="623.3" font-size="23.5"><tspan font-style="italic">Conopeum tenuissimum</tspan></text>
<path d="M1161.0 636.0L1171.0 646.0L1161.0 656.0L1151.0 646.0Z" fill="none" stroke="#b3bb45" stroke-width="1.5"/>
<text x="1210.7" y="652.5" font-size="23.5"><tspan font-style="italic">Crassostrea virginica</tspan></text>
<path d="M1161.0 685.5L1169.8 670.2L1152.2 670.2Z" fill="none" stroke="#969c82" stroke-width="1.4"/>
<text x="1210.7" y="681.8" font-size="23.5"><tspan font-style="italic">Crisularia turrita</tspan></text>
<rect x="1154.0" y="697.6" width="14.0" height="14.0" fill="#8c8c8c"/>
<text x="1210.7" y="711.1" font-size="23.5"><tspan font-style="italic">Hiatella arctica</tspan></text>
<circle cx="1161.0" cy="733.8" r="7.10" fill="#e8757d"/>
<text x="1210.7" y="740.3" font-size="23.5"><tspan font-style="italic">Lacuna vincta</tspan></text>
<path d="M1161.0 752.7L1170.0 768.3L1152.0 768.3Z" fill="#a9c1cb"/>
<text x="1210.7" y="769.6" font-size="23.5"><tspan font-style="italic">Mytilus</tspan> sp.</text>
<line x1="1139.5" y1="792" x2="1182.5" y2="792" stroke="#000" stroke-width="4.2" stroke-linecap="round"/>
<text x="1210.7" y="798.8" font-size="23.5">Regression line</text>
<path d="M1140 821.2H1156.5M1169.5 821.2H1183" stroke="#000" stroke-width="3.3" stroke-linecap="round"/>
<text x="1210.7" y="828.1" font-size="23.5">1:1 ratio</text>
<text x="399" y="932" font-size="35" textLength="697" lengthAdjust="spacingAndGlyphs">Additive recruitment (log no. of recruits plate</text>
<text x="1097.5" y="915.4" font-size="25">−1</text><text x="1126" y="932" font-size="35">d</text><text x="1145.5" y="915.4" font-size="25">−1</text><text x="1175" y="932" font-size="35">)</text>
<g transform="translate(38.3,857) rotate(-90)"><text x="0" y="0" font-size="35" textLength="747.5" lengthAdjust="spacingAndGlyphs">Cumulative recruitment (log no. of recruits plate</text>
<text x="749.0" y="-16.6" font-size="25">−1</text><text x="777.5" y="0" font-size="35">d</text><text x="797.0" y="-16.6" font-size="25">−1</text><text x="826.5" y="0" font-size="35">)</text></g>
</svg></body></html>
